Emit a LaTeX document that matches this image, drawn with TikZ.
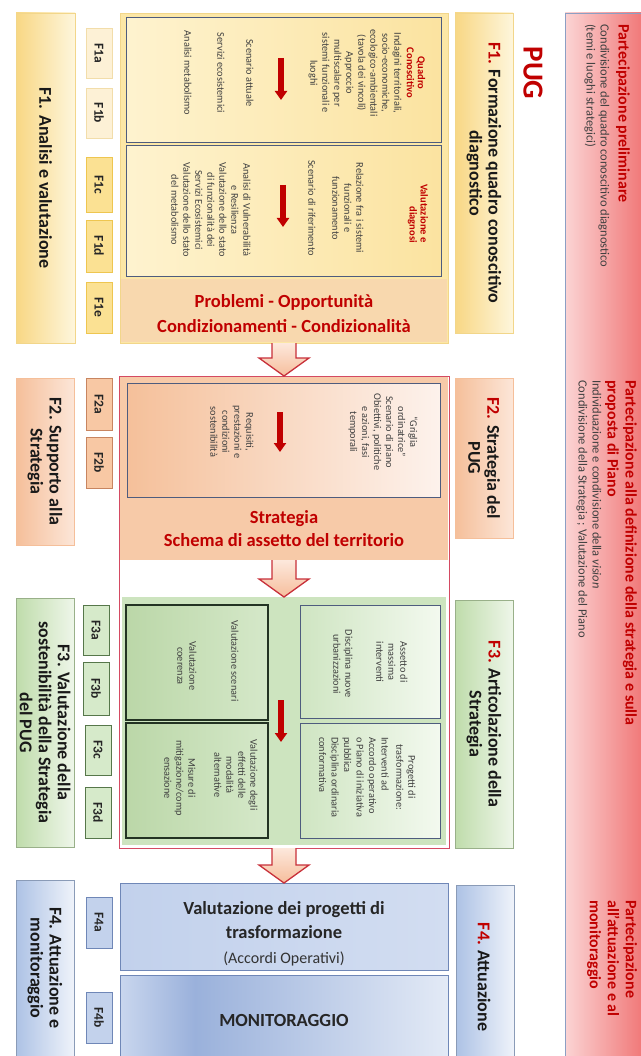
\documentclass[tikz,border=0pt]{standalone}
\usepackage{fontspec}
\setmainfont{Carlito}
\usetikzlibrary{calc,arrows.meta}
\definecolor{pred}{HTML}{C00000}
\definecolor{txt}{HTML}{404040}
\definecolor{slate}{HTML}{4E5C7E}
\definecolor{pinkL}{HTML}{FBD4D4}
\definecolor{pinkR}{HTML}{F07575}
\definecolor{pinkB}{HTML}{8C9FC4}
\definecolor{yhL}{HTML}{F8D784}
\definecolor{yhR}{HTML}{FEF6DC}
\definecolor{ymainC}{HTML}{FCE7A6}
\definecolor{ymainB}{HTML}{F2D68A}
\definecolor{yinL}{HTML}{FEF3CF}
\definecolor{yinR}{HTML}{FBE3A0}
\definecolor{yprobC}{HTML}{F8D8AE}
\definecolor{ytagAC}{HTML}{FDF1D6}
\definecolor{ytagAB}{HTML}{F2DDAA}
\definecolor{ytagBC}{HTML}{FBE193}
\definecolor{ytagBB}{HTML}{EEC650}
\definecolor{phL}{HTML}{F5BF9A}
\definecolor{phR}{HTML}{FCE6D8}
\definecolor{pmainC}{HTML}{F7CAA8}
\definecolor{pinL}{HTML}{F5C09A}
\definecolor{pinR}{HTML}{FDF2EC}
\definecolor{ptagC}{HTML}{F8C8A4}
\definecolor{ptagB}{HTML}{C88560}
\definecolor{ghL}{HTML}{BFDCAB}
\definecolor{ghR}{HTML}{EEF6E9}
\definecolor{gmainC}{HTML}{CDE4BF}
\definecolor{ginAL}{HTML}{CFE5C2}
\definecolor{ginAR}{HTML}{F3F9EF}
\definecolor{ginBL}{HTML}{BBD7A8}
\definecolor{ginBR}{HTML}{D5E8C9}
\definecolor{ginBB}{HTML}{233323}
\definecolor{gtagC}{HTML}{D6EACA}
\definecolor{gtagB}{HTML}{56774A}
\definecolor{bhL}{HTML}{ADC2E5}
\definecolor{bhR}{HTML}{EFF3FA}
\definecolor{bmainL}{HTML}{C2D1EC}
\definecolor{bmainR}{HTML}{D2DDF1}
\definecolor{bB}{HTML}{6F87B7}
\definecolor{btagC}{HTML}{C3D2EC}
\definecolor{monA}{HTML}{C9D6EE}
\definecolor{monB}{HTML}{9AB1DB}
\definecolor{monC}{HTML}{E3EAF6}
\definecolor{frameC}{HTML}{D44A62}
\definecolor{arrB}{HTML}{C8303A}
\definecolor{arrT}{HTML}{FDE8DC}
\definecolor{arrBo}{HTML}{F6BE9C}
\newcommand{\bxat}[6]{\node[bx,#1,minimum width=#4pt,minimum height=#5pt] (#6) at (#2,#3) {};}
\newcommand{\blockarrow}[2]{\draw[bigarr] ($(#1)+(-12,0)$) -- ($(#2)+(-12,-18)$) -- ($(#2)+(-25,-18)$) -- (#2) -- ($(#2)+(25,-18)$) -- ($(#2)+(12,-18)$) -- ($(#1)+(12,0)$);}
\begin{document}
\begin{tikzpicture}[x=1pt,y=-1pt,
  bx/.style={anchor=north west,inner sep=0pt,outer sep=0pt},
  pinkbox/.style={left color=pinkL,right color=pinkR,draw=pinkB,line width=0.8pt},
  yhdr/.style={left color=yhL,right color=yhR,draw=ymainB,line width=0.6pt},
  phdr/.style={left color=phL,right color=phR,draw=phL,line width=0.6pt},
  ghdr/.style={left color=ghL,right color=ghR,draw=ghL!80!black,line width=0.6pt},
  bhdr/.style={left color=bhL,right color=bhR,draw=bhL!80!black,line width=0.6pt},
  ymain/.style={fill=ymainC,draw=ymainB,line width=0.6pt},
  yprob/.style={fill=yprobC},
  yinner/.style={left color=yinL,right color=yinR,draw=slate,line width=1pt},
  ytagA/.style={fill=ytagAC,draw=ytagAB,line width=0.8pt},
  ytagB/.style={fill=ytagBC,draw=ytagBB,line width=0.8pt},
  pmain/.style={fill=pmainC},
  pinner/.style={left color=pinL,right color=pinR,draw=slate,line width=1pt},
  ptag/.style={fill=ptagC,draw=ptagB,line width=0.8pt},
  gmain/.style={fill=gmainC},
  ginA/.style={left color=ginAL,right color=ginAR,draw=slate,line width=1pt},
  ginB/.style={left color=ginBL,right color=ginBR,draw=ginBB,line width=1.2pt},
  gtag/.style={fill=gtagC,draw=gtagB,line width=0.8pt},
  bmain/.style={left color=bmainL,right color=bmainR,draw=bB,line width=0.8pt},
  btag/.style={fill=btagC,draw=bB,line width=0.8pt},
  monbox/.style={draw=bB,line width=0.8pt},
  redframe/.style={draw=frameC,line width=0.9pt},
  rt/.style={rotate=-90,inner sep=0pt,align=center,text=txt},
  smalltxt/.style={rt,font=\fontsize{10.3}{12}\selectfont},
  redsm/.style={rt,text=pred,font=\fontsize{10.5}{11}\selectfont\bfseries},
  hdrtxt/.style={rt,text=black!90,font=\fontsize{18}{19}\selectfont\bfseries},
  ftag/.style={rt,text=black!85,font=\fontsize{13.5}{14}\selectfont\bfseries},
  bigred/.style={inner sep=0pt,align=center,text=pred,font=\fontsize{18.5}{25}\selectfont\bfseries},
  bigblk/.style={inner sep=0pt,align=center,text=black!85,font=\fontsize{18.5}{24}\selectfont\bfseries},
  ptitle/.style={rt,anchor=west,align=left,text=pred,font=\fontsize{16}{18}\selectfont\bfseries},
  pbody/.style={rt,anchor=west,align=left,text=txt,font=\fontsize{12.5}{14}\selectfont},
  smallarr/.style={draw=pred,line width=5.5pt,-{Triangle[width=12pt,length=9pt]}},
  bigarr/.style={draw=arrB,line width=1.3pt,top color=arrT,bottom color=arrBo,line join=miter}]
\useasboundingbox (0,0) rectangle (640,1056);
\fill[white] (0,0) rectangle (640,1056);
% participation band
\bxat{pinkbox}{565}{13}{80}{1050}{pink}
\node[ptitle] (p1t) at (623,24) {Partecipazione preliminare};
\node[pbody] (p1b) at (597,24) {Condivisione del quadro conoscitivo diagnostico\\(temi e luoghi strategici)};
\node[ptitle] (p2t) at (621,380) {Partecipazione alla definizione della strategia e sulla\\proposta di Piano};
\node[pbody] (p2b) at (589,380) {Individuazione e condivisione della \textit{vision}\\Condivisione della Strategia ; Valutazione del Piano};
\node[ptitle] (p3t) at (612,900) {Partecipazione\\all’attuazione e al\\monitoraggio};
% header column
\node[rt,text=pred,font=\fontsize{29}{30}\selectfont\bfseries] (pug) at (533,73) {PUG};
\bxat{yhdr}{455}{13}{58}{320}{f1hdr}
\bxat{phdr}{455}{378}{58}{160}{f2hdr}
\bxat{ghdr}{455}{600}{58}{248}{f3hdr}
\bxat{bhdr}{456}{885}{58}{180}{f4hdr}
\node[hdrtxt] (f1hdrT) at (f1hdr.center) {{\color{pred}F1.} Formazione quadro conoscitivo\\diagnostico};
\node[hdrtxt] (f2hdrT) at (f2hdr.center) {{\color{pred}F2.} Strategia del\\PUG};
\node[hdrtxt] (f3hdrT) at (f3hdr.center) {{\color{pred}F3.} Articolazione della\\Strategia};
\node[hdrtxt] (f4hdrT) at (484,977) {{\color{pred}F4.} Attuazione};
% F1 main
\bxat{ymain}{120}{13}{328}{330}{f1main}
\bxat{yprob}{121}{279}{326}{63}{f1prob}
\bxat{yinner}{126}{18}{315}{125}{q1}
\bxat{yinner}{126}{146}{315}{131}{q2}
\node[redsm] (q1h) at (416,73) {Quadro\\Conoscitivo};
\node[smalltxt] (q1b) at (355,73) {Indagini territoriali,\\socio-economiche,\\ecologico-ambientali\\(tavola dei vincoli)\\Approccio\\multiscalare per\\sistemi funzionali e\\luoghi};
\coordinate (q1a1) at (281,58);
\coordinate (q1a2) at (281,100);
\draw[smallarr] (q1a1) -- (q1a2);
\node[smalltxt] (q1c) at (250,73) {Scenario attuale};
\node[smalltxt] (q1d) at (221,73) {Servizi ecosistemici};
\node[smalltxt] (q1e) at (188,73) {Analisi metabolismo};
\node[redsm,anchor=east,align=right] (q2h) at (418,243) {Valutazione e\\diagnosi};
\node[smalltxt] (q2b) at (348,208) {Relazione fra i sistemi\\funzionali e\\funzionamento};
\node[smalltxt] (q2c) at (312,208) {Scenario di riferimento};
\coordinate (q2a1) at (283,185);
\coordinate (q2a2) at (283,227);
\draw[smallarr] (q2a1) -- (q2a2);
\node[smalltxt] (q2d) at (211,210) {Analisi di Vulnerabilità\\e Resilienza\\Valutazione dello stato\\di funzionalità dei\\Servizi Ecosistemici\\Valutazione dello stato\\del metabolismo};
\node[bigred] (f1probT) at (284,314) {Problemi - Opportunità\\Condizionamenti - Condizionalità};
% F2 main
\bxat{pmain}{120}{377}{328}{183}{f2main}
\bxat{pinner}{127}{383}{313}{114}{f2in}
\node[smalltxt] (f2b) at (383,432) {“Griglia\\ordinatrice”\\Scenario di piano\\Obiettivi, politiche\\e azioni, fasi\\temporali};
\coordinate (f2a1) at (280,412);
\coordinate (f2a2) at (280,452);
\draw[smallarr] (f2a1) -- (f2a2);
\node[smalltxt] (f2c) at (232,432) {Requisiti,\\prestazioni e\\condizioni\\sostenibilità};
\node[bigred,font=\fontsize{18.5}{23}\selectfont\bfseries] (f2T) at (284,529) {Strategia\\Schema di assetto del territorio};
% F3 main
\bxat{gmain}{122}{597}{324}{248}{f3main}
\bxat{ginA}{300}{605}{140}{113}{f3tr}
\bxat{ginA}{300}{723}{140}{115}{f3br}
\bxat{ginB}{126}{605}{142}{115}{f3tl}
\bxat{ginB}{126}{723}{142}{115}{f3bl}
\node[smalltxt] (f3trA) at (392,662) {Assetto di\\massima\\interventi};
\node[smalltxt] (f3trB) at (343,664) {Disciplina nuove\\urbanizzazioni};
\node[smalltxt] (f3brA) at (406,777) {Progetti di\\trasformazione:};
\node[smalltxt,anchor=west,align=left,font=\fontsize{10.3}{12.5}\selectfont] (f3brB) at (354,737) {Interventi ad\\Accordo operativo\\o Piano di iniziativa\\pubblica\\Disciplina ordinaria\\conformativa};
\node[smalltxt] (f3tlA) at (235,661) {Valutazione scenari};
\node[smalltxt] (f3tlB) at (187,666) {Valutazione\\coerenza};
\node[smalltxt] (f3blA) at (236,775) {Valutazione degli\\effetti delle\\modalità\\alternative};
\node[smalltxt] (f3blB) at (180,778) {Misure di\\mitigazione/comp\\ensazione};
\coordinate (f3a1) at (281,700);
\coordinate (f3a2) at (281,742);
\draw[smallarr] (f3a1) -- (f3a2);
\bxat{redframe}{119}{376}{330}{472}{f2frame}
% F4 main
\bxat{bmain}{120}{883}{328}{87}{f4top}
\fill[left color=monA,right color=monB] (120,975) rectangle (195,1066);
\fill[left color=monB,right color=monC] (195,975) rectangle (448,1066);
\bxat{monbox}{120}{975}{328}{91}{f4mon}
\node[bigblk] (f4topA) at (284,920) {Valutazione dei progetti di\\trasformazione};
\node[inner sep=0pt,text=black!80,font=\fontsize{16}{18}\selectfont] (f4topB) at (284,959) {(Accordi Operativi)};
\node[bigblk] (f4monT) at (284,1020) {MONITORAGGIO};
% block arrows
\blockarrow{f1main.south}{f2frame.north}
\blockarrow{f2main.south}{f3main.north}
\blockarrow{f2frame.south}{f4top.north}
% side labels
\bxat{yhdr}{16}{13}{59}{330}{f1lbl}
\bxat{phdr}{16}{378}{58}{167}{f2lbl}
\bxat{ghdr}{16}{598}{58}{249}{f3lbl}
\bxat{bhdr}{16}{880}{58}{185}{f4lbl}
\node[hdrtxt] (f1lblT) at (f1lbl.center) {F1. Analisi e valutazione};
\node[hdrtxt] (f2lblT) at (f2lbl.center) {F2. Supporto alla\\Strategia};
\node[hdrtxt] (f3lblT) at (f3lbl.center) {F3. Valutazione della\\sostenibilità della Strategia\\del PUG};
\node[hdrtxt] (f4lblT) at (45,968) {F4. Attuazione e\\monitoraggio};
% tags
\bxat{ytagA}{86}{28}{26}{50}{f1a}
\bxat{ytagA}{86}{88}{26}{50}{f1b}
\bxat{ytagB}{86}{157}{26}{55}{f1c}
\bxat{ytagB}{86}{220}{26}{52}{f1d}
\bxat{ytagB}{86}{282}{26}{51}{f1e}
\bxat{ptag}{86}{378}{26}{52}{f2a}
\bxat{ptag}{86}{437}{26}{51}{f2b}
\bxat{gtag}{83}{605}{26}{50}{f3a}
\bxat{gtag}{83}{662}{26}{53}{f3b}
\bxat{gtag}{85}{725}{26}{50}{f3c}
\bxat{gtag}{85}{787}{26}{51}{f3d}
\bxat{btag}{86}{897}{26}{51}{f4a}
\bxat{btag}{86}{992}{26}{51}{f4b}
\foreach \t/\n in {F1a/f1a,F1b/f1b,F1c/f1c,F1d/f1d,F1e/f1e,F2a/f2a,F2b/f2b,F3a/f3a,F3b/f3b,F3c/f3c,F3d/f3d,F4a/f4a,F4b/f4b}
  \node[ftag] (\n T) at (\n.center) {\t};
\end{tikzpicture}
\end{document}
